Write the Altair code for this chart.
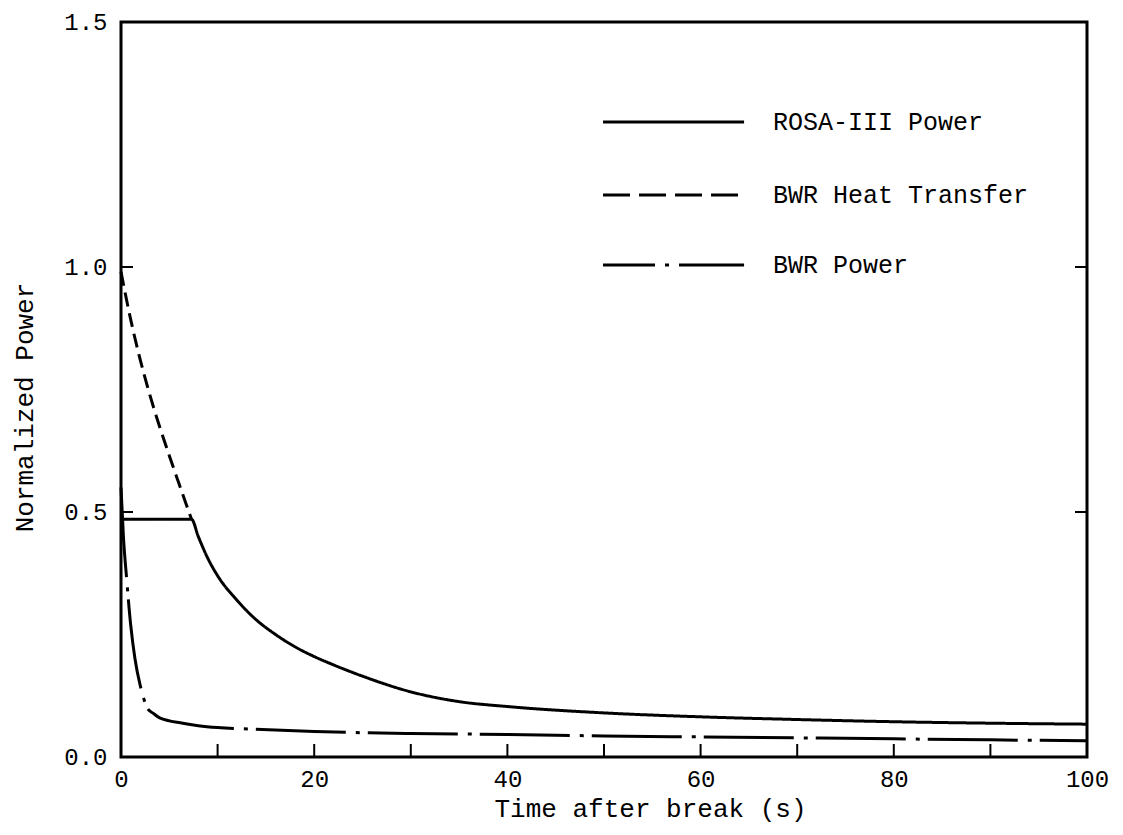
import altair as alt
import pandas as pd

# ---- data ----
rosa_t = [0, 7.3, 8, 9, 10, 12, 14, 16, 18, 20, 22, 25, 30, 35, 40, 50, 60, 70, 80, 90, 100]
rosa_v = [0.485, 0.485, 0.45, 0.405, 0.37, 0.32, 0.28, 0.25, 0.225, 0.205, 0.188, 0.165,
          0.133, 0.113, 0.103, 0.09, 0.082, 0.0765, 0.072, 0.069, 0.067]

heat_t = [0, 1, 2, 3, 4, 5, 6, 7.3]
heat_v = [0.99, 0.893, 0.81, 0.738, 0.674, 0.615, 0.558, 0.485]

bwr_t = [0, 0.25, 0.6, 1.0, 1.45, 2.0, 2.3, 2.7, 3.35, 4, 6.4, 8, 10, 13.4, 20, 30, 40,
         50, 60, 70, 80, 90, 100]
bwr_v = [0.55, 0.45, 0.36, 0.27, 0.2, 0.145, 0.123, 0.1, 0.089, 0.08, 0.069, 0.064, 0.06,
         0.057, 0.052, 0.048, 0.046, 0.043, 0.041, 0.039, 0.037, 0.035, 0.033]

series_names = ["ROSA-III Power", "BWR Heat Transfer", "BWR Power"]
series_t = [rosa_t, heat_t, bwr_t]
series_v = [rosa_v, heat_v, bwr_v]
curve_dash = [[1, 0], [14, 7], [90, 10, 4, 8]]

legend_y = [1.296, 1.147, 1.004]
legend_x1 = [49.9, 49.9, 49.9]
legend_x2 = [64.5, 64.5, 64.5]
legend_text_x = [67.5, 67.5, 67.5]
legend_dash = [[1, 0], [27, 9], [52, 10, 4, 10, 200]]

x_ticks_minor = [10, 20, 30, 40, 50, 60, 70, 80, 90]
y_ticks_inner = [0.5, 1.0]
x_label_values = [0, 20, 40, 60, 80, 100]
y_label_values = [0, 0.5, 1.0, 1.5]

W, H = 966, 735
FONT = "Liberation Mono"

xenc = alt.X(
    "t:Q",
    scale=alt.Scale(domain=[0, 100], nice=False, zero=False),
    axis=alt.Axis(values=x_label_values, format="d", title="Time after break (s)",
                  ticks=False, tickSize=0, domain=False, grid=False, labelPadding=10,
                  labelFlush=False,
                  labelFont=FONT, labelFontSize=24, labelColor="black",
                  titleFont=FONT, titleFontSize=26, titleFontWeight="normal",
                  titleColor="black", titleX=529, titleY=51, titleBaseline="middle"),
)
yenc = alt.Y(
    "v:Q",
    scale=alt.Scale(domain=[0, 1.5], nice=False),
    axis=alt.Axis(values=y_label_values, format=".1f", title="Normalized Power",
                  ticks=False, tickSize=0, domain=False, grid=False, labelPadding=14,
                  labelFlush=False,
                  labelFont=FONT, labelFontSize=24, labelColor="black",
                  titleFont=FONT, titleFontSize=26, titleFontWeight="normal",
                  titleColor="black", titleX=-97, titleY=385, titleBaseline="middle"),
)

layers = []
for name, ts, vs, dash in zip(series_names, series_t, series_v, curve_dash):
    d = pd.DataFrame({"t": ts, "v": vs, "order": list(range(len(ts)))})
    layers.append(
        alt.Chart(d).mark_line(color="black", strokeWidth=3, strokeDash=dash,
                               interpolate="monotone")
        .encode(x=xenc, y=yenc, order="order:Q")
    )

# inward tick marks
xt = pd.DataFrame({"t": x_ticks_minor})
layers.append(alt.Chart(xt).mark_rule(color="black", strokeWidth=2)
              .encode(x=xenc, y=alt.value(H), y2=alt.value(H - 13)))
yt = pd.DataFrame({"v": y_ticks_inner})
layers.append(alt.Chart(yt).mark_rule(color="black", strokeWidth=2)
              .encode(y=yenc, x=alt.value(0), x2=alt.value(12)))
layers.append(alt.Chart(yt).mark_rule(color="black", strokeWidth=2)
              .encode(y=yenc, x=alt.value(W), x2=alt.value(W - 12)))

# legend
for i, name in enumerate(series_names):
    ld = pd.DataFrame({"t": [legend_x1[i]], "t2": [legend_x2[i]], "v": [legend_y[i]]})
    layers.append(alt.Chart(ld).mark_rule(color="black", strokeWidth=3,
                                          strokeDash=legend_dash[i])
                  .encode(x=xenc, x2="t2:Q", y=yenc))
    lt = pd.DataFrame({"t": [legend_text_x[i]], "v": [legend_y[i]], "label": [name]})
    layers.append(alt.Chart(lt).mark_text(align="left", baseline="middle", font=FONT,
                                          fontSize=25, color="black")
                  .encode(x=xenc, y=yenc, text="label:N"))

chart = (
    alt.layer(*layers)
    .properties(width=W, height=H, padding={"left": 113, "top": 14, "right": 28, "bottom": 70},
                autosize=alt.AutoSizeParams(type="none"), background="white")
    .configure_view(stroke="black", strokeWidth=3)
)

chart.save("out.html", embed_options={"renderer": "svg", "actions": False})
